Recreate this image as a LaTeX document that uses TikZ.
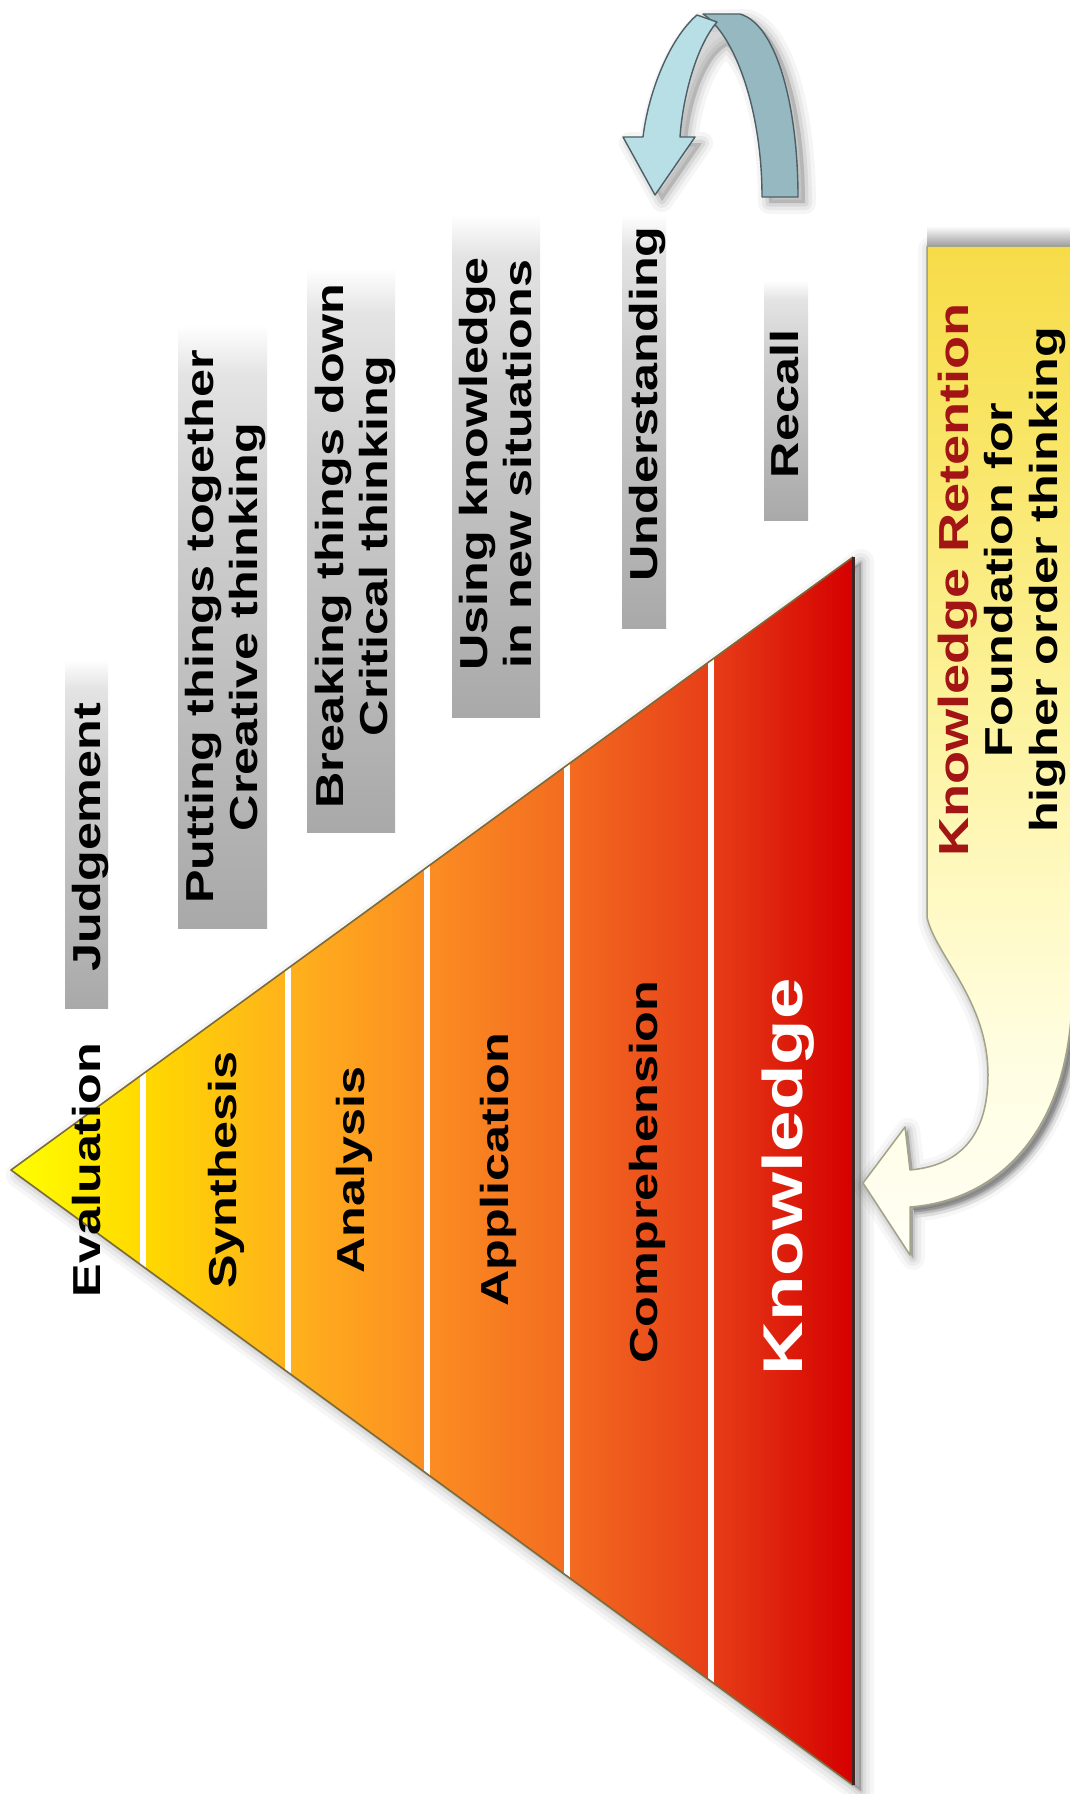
\documentclass[tikz,border=0pt]{standalone}
\usepackage{tikz}
\usepackage{graphicx}
\usepackage{fontspec}
\setmainfont{Liberation Sans}

% colour ramp of the pyramid, apex (yellow) to base (red)
\definecolor{rampA}{HTML}{FFFF00}
\definecolor{rampB}{HTML}{FFD800}
\definecolor{rampC}{HTML}{FFB21C}
\definecolor{rampD}{HTML}{FB8C22}
\definecolor{rampE}{HTML}{F36C20}
\definecolor{rampF}{HTML}{E73E18}
\definecolor{rampG}{HTML}{D50000}
% grey caption strips
\definecolor{tagB}{HTML}{A9A9A9}
\definecolor{tagM}{HTML}{CDCDCD}
\definecolor{tagL}{HTML}{E4E4E4}
% callout
\definecolor{noteA}{HTML}{F7DC48}
\definecolor{noteB}{HTML}{F9E668}
\definecolor{noteC}{HTML}{FCF29A}
\definecolor{noteD}{HTML}{FFF9C4}
\definecolor{noteE}{HTML}{FFFDE0}
\definecolor{noteF}{HTML}{FFFFF5}
\definecolor{noteline}{HTML}{A3A38A}
\definecolor{retention}{HTML}{A31515}
% loop arrow
\definecolor{legfront}{HTML}{B8DEE6}
\definecolor{legback}{HTML}{95B8C1}
\definecolor{legline}{HTML}{4D5F64}
\definecolor{pyredge}{HTML}{7B6B3A}
\definecolor{pyrbase}{HTML}{402424}

\pgfdeclarehorizontalshading{bloomramp}{100bp}{color(0bp)=(rampA); color(25bp)=(rampA); color(33bp)=(rampB); color(41.4bp)=(rampC); color(50bp)=(rampD); color(58bp)=(rampE); color(66.5bp)=(rampF); color(75bp)=(rampG); color(100bp)=(rampG)}
\pgfdeclareverticalshading{tagfade}{100bp}{color(0bp)=(tagB); color(25bp)=(tagB); color(58bp)=(tagM); color(71bp)=(tagL); color(75bp)=(white); color(100bp)=(white)}
\pgfdeclareverticalshading{notefade}{100bp}{color(0bp)=(noteF); color(25bp)=(noteF); color(35.2bp)=(noteE); color(42.6bp)=(noteD); color(52.5bp)=(noteC); color(64.9bp)=(noteB); color(75bp)=(noteA); color(100bp)=(noteA)}

\newcommand{\wideText}[2][1.29]{\scalebox{#1}[1]{#2}}

\tikzset{
  lvl/.style={rotate=90, anchor=base, inner sep=0pt, font=\bfseries\fontsize{39}{44}\selectfont},
  tag/.style={shading=tagfade, draw=none},
  divider/.style={white, line width=6pt},
  frontleg/.style={fill=legfront, draw=legline, line width=1.4pt, line join=round},
  backleg/.style={fill=legback, draw=legline, line width=1.4pt, line join=round},
}

\begin{document}
\begin{tikzpicture}[x=1pt,y=-1pt]
\useasboundingbox (0,0) rectangle (1070,1794);
\fill[white] (0,0) rectangle (1070,1794);
\clip (0,0) rectangle (1070,1794);

\coordinate (apex) at (11,1170);
\coordinate (tr) at (853,557);
\coordinate (br) at (853,1785);

% soft shadow under the pyramid
\foreach \w/\o in {26/0.035,18/0.045,10/0.06,4/0.09}
  \filldraw[black,opacity=\o,line width=\w pt,line join=round] (19,1175) -- (861,562) -- (861,1791) -- cycle;

% pyramid body
\shade[shading=bloomramp] (apex) -- (tr) -- (br) -- cycle;
\begin{scope}
  \clip (apex) -- (tr) -- (br) -- cycle;
  \foreach \x in {143,288,427,567,710.5}
    \draw[divider] (\x,500) -- (\x,1794);
\end{scope}
\draw[pyredge, line width=1.6pt, line join=round] (br) -- (apex) -- (tr);
\draw[pyrbase, line width=3pt] (tr) -- (br);

% level names
\node[lvl] (evaluation) at (100,1170) {\wideText{Evaluation}};
\node[lvl] (synthesis) at (236,1170) {\wideText{Synthesis}};
\node[lvl] (analysis) at (364,1170) {\wideText{Analysis}};
\node[lvl] (application) at (508,1170) {\wideText{Application}};
\node[lvl] (comprehension) at (657,1172) {\wideText{Comprehension}};
\node[lvl, text=white, font=\bfseries\fontsize{56}{60}\selectfont] (knowledge) at (802,1177) {\wideText[1.33]{Knowledge}};

% grey caption strips
\shade[tag] (65,660) rectangle (108,1008);
\shade[tag] (178,325) rectangle (267,928);
\shade[tag] (307,268) rectangle (395,832);
\shade[tag] (452,215) rectangle (540,717);
\shade[tag] (622,215) rectangle (666,628);
\shade[tag] (764,280) rectangle (808,520);

\node[lvl] (judgement) at (100,837) {\wideText{Judgement}};
\node[lvl] (putting) at (213,627) {\wideText{\begin{tabular}[t]{@{}c@{}}Putting things together\\Creative thinking\end{tabular}}};
\node[lvl] (breaking) at (343,546) {\wideText{\begin{tabular}[t]{@{}c@{}}Breaking things down\\Critical thinking\end{tabular}}};
\node[lvl] (using) at (487,464) {\wideText{\begin{tabular}[t]{@{}c@{}}Using knowledge\\in new situations\end{tabular}}};
\node[lvl] (understanding) at (657,404) {\wideText{Understanding}};
\node[lvl] (recall) at (798,404) {\wideText{Recall}};

% loop arrow: shadow, back leg, front leg with head
\foreach \w/\o in {22/0.04,14/0.05,7/0.07}{
  \filldraw[black,opacity=\o,line width=\w pt,line join=round,xshift=7pt,yshift=-6pt]
    (762,197) -- (798,197) .. controls (798,110) and (778,25) .. (740,14) -- (697,15)
    .. controls (668,40) and (648,95) .. (643,137) -- (623,137) -- (655,195) -- (695,137) -- (680,137)
    .. controls (683,95) and (700,50) .. (720,40) .. controls (745,60) and (762,120) .. (762,197) -- cycle;
}
\filldraw[backleg] (762,197) -- (798,197) .. controls (798,110) and (778,25) .. (740,14) -- (703,14) .. controls (735,35) and (762,110) .. (762,197) -- cycle;
\filldraw[frontleg] (717,22) .. controls (697,45) and (683,95) .. (680,137) -- (695,137) -- (655,195) -- (623,137) -- (643,137) .. controls (648,95) and (668,40) .. (697,15) -- cycle;

% callout with curved pointer
\def\calloutpath{(927,246) -- (1090,246) -- (1090,1000) -- (1072,1000) .. controls (1068,1130) and (1000,1200) .. (910,1207) -- (910,1255) -- (863,1183) -- (905,1127) -- (910,1170) .. controls (965,1165) and (988,1130) .. (988,1075) .. controls (988,1000) and (935,955) .. (927,917) -- cycle}
\foreach \w/\o in {24/0.03,16/0.045,9/0.06,4/0.08}
  \filldraw[black,opacity=\o,line width=\w pt,line join=round,xshift=3pt,yshift=-3pt] \calloutpath;
\shade[top color=white, bottom color=black!38] (927,226) rectangle (1070,246);
\foreach \w/\o in {14/0.06,8/0.09,3/0.14}
  \draw[black,opacity=\o,line width=\w pt,xshift=4pt,yshift=-4pt] (1072,1000) .. controls (1068,1130) and (1000,1200) .. (910,1207);
\shade[shading=notefade] \calloutpath;
\draw[noteline, line width=1.5pt, line join=round] \calloutpath;

\node[lvl, font=\bfseries\fontsize{39}{44.5}\selectfont] (retention) at (968,580)
  {\wideText{\begin{tabular}[t]{@{}c@{}}{\color{retention}\fontsize{42}{44.5}\selectfont Knowledge Retention}\\Foundation for\\higher order thinking\end{tabular}}};
\end{tikzpicture}
\end{document}
